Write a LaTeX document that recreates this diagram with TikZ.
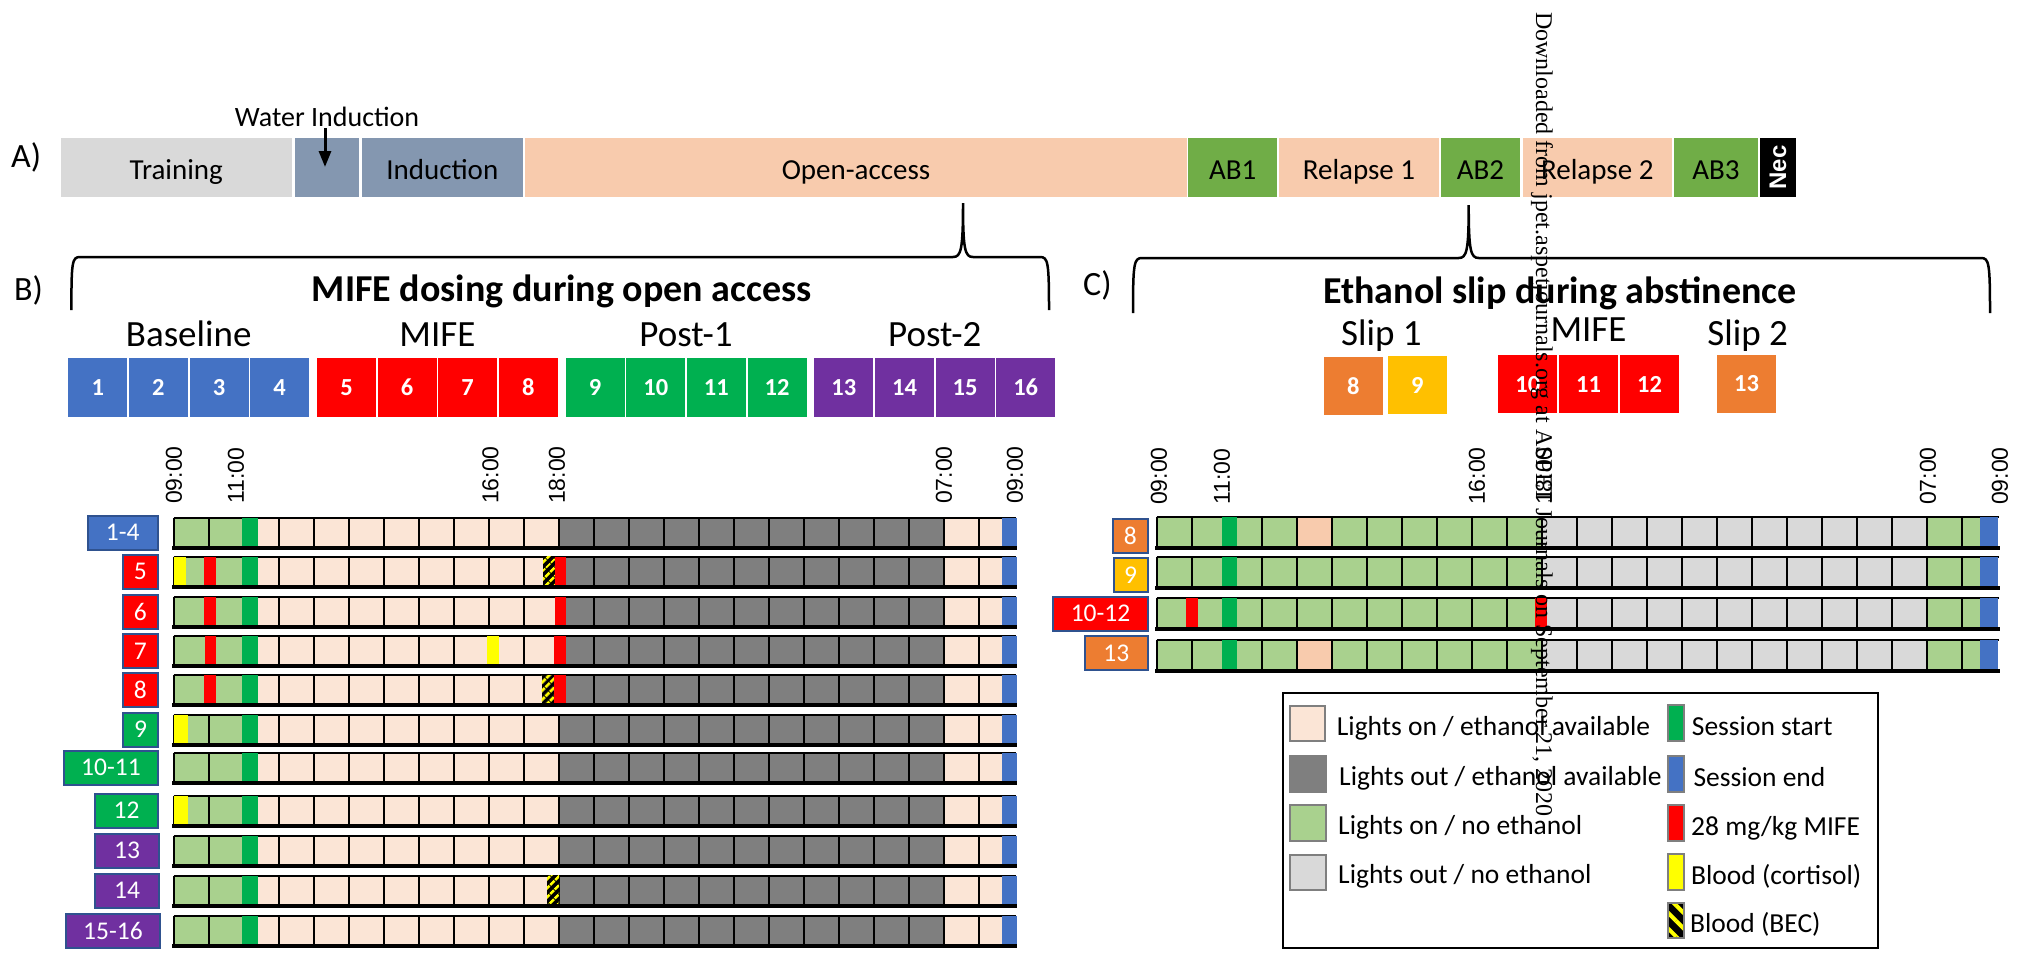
\documentclass[tikz,border=0pt]{standalone}
\usepackage{fontspec}
\setmainfont{Carlito}
\newfontfamily\arialf{Liberation Sans}
\newfontfamily\timesf{Liberation Serif}
\usetikzlibrary{arrows.meta,patterns.meta}
\definecolor{lgreen}{HTML}{A9D18E}
\definecolor{sgreen}{HTML}{00B050}
\definecolor{peachl}{HTML}{FBE5D6}
\definecolor{peach}{HTML}{F8CBAD}
\definecolor{dgray}{HTML}{7F7F7F}
\definecolor{lgray}{HTML}{D9D9D9}
\definecolor{sblue}{HTML}{4472C4}
\definecolor{sred}{HTML}{FF0000}
\definecolor{syellow}{HTML}{FFFF00}
\definecolor{spurple}{HTML}{7030A0}
\definecolor{sorange}{HTML}{ED7D31}
\definecolor{sgold}{HTML}{FFC000}
\definecolor{slate}{HTML}{8497B0}
\definecolor{abgreen}{HTML}{70AD47}
\definecolor{lblborder}{HTML}{2F528F}
\newcommand\fs[1]{\fontsize{#1}{#1}\selectfont}
% grid helpers: x0, top, height
\newcommand\vlines[3]{%
  \foreach \k in {0,...,24} \draw[cellline] ({#1+35*\k},#2) -- ({#1+35*\k},{#2+#3});
  \draw[cellline] (#1,#2) -- ({#1+842},#2);}
\newcommand\baseln[3]{\draw[line width=4pt] ({#1-1.5},{#2+#3}) -- ({#1+843.5},{#2+#3});}
\newcommand\mk[4]{\fill[#1] (#2,#4) rectangle (#3,{#4+30});}
\newcommand\mkC[4]{\fill[#1] (#2,#4) rectangle (#3,{#4+31});}
\newcommand\hatch[3]{\fill[black] (#1,#3) rectangle (#2,{#3+30});
  \fill[pattern={Lines[angle=45,distance=6.5pt,line width=3pt]},pattern color=syellow] (#1,#3) rectangle (#2,{#3+30});}
\newcommand\gridB[1]{%
  \fill[lgreen] (173.6,#1) rectangle (243.6,{#1+30});
  \fill[peachl] (243.6,#1) rectangle (558.6,{#1+30});
  \fill[dgray] (558.6,#1) rectangle (943.6,{#1+30});
  \fill[peachl] (943.6,#1) rectangle (1013.6,{#1+30});
  \vlines{173.6}{#1}{30}
  \fill[sgreen] (242,#1) rectangle (258,{#1+30});
  \fill[sblue] (1002,#1) rectangle (1017,{#1+30});}
\newcommand\gridC[2]{% top, peach?
  \fill[lgreen] (1156.7,#1) rectangle (1541.7,{#1+31});
  \fill[lgray] (1541.7,#1) rectangle (1926.7,{#1+31});
  \fill[lgreen] (1926.7,#1) rectangle (1996.7,{#1+31});
  \ifnum#2=1 \fill[peach] (1296.7,#1) rectangle (1331.7,{#1+31});\fi
  \vlines{1156.7}{#1}{31}
  \fill[sgreen] (1221.5,#1) rectangle (1236.5,{#1+31});
  \fill[sblue] (1980,#1) rectangle (1998,{#1+31});}
\begin{document}
\begin{tikzpicture}[x=1pt,y=-1pt,
  cellline/.style={line width=2pt,black},
  bar/.style={inner sep=0pt,minimum height=58.4pt},
  bartxt/.style={anchor=base,inner sep=0pt,font=\fs{29}},
  blk/.style={inner sep=0pt,minimum width=59pt,minimum height=58.4pt,text=white,font=\bfseries\fs{24.5}},
  grp/.style={anchor=base,inner sep=0pt,font=\fs{37}},
  ttl/.style={anchor=base,inner sep=0pt,font=\bfseries\fs{38}},
  panel/.style={anchor=base west,inner sep=0pt,font=\fs{34}},
  tlab/.style={rotate=90,anchor=west,inner sep=0pt,font=\arialf\fs{23}},
  lblbox/.style={draw=lblborder,line width=2pt,text=white,minimum height=34pt,inner sep=0pt,anchor=east,font=\fs{25.5}},
  sw/.style={draw=dgray,line width=2.5pt},
  legt/.style={anchor=base west,inner sep=0pt,font=\fs{27.5}},
  brace/.style={line width=2.5pt,black}]
\useasboundingbox (0,0) rectangle (2018,956);

% ---------- A) timeline bar ----------
\node[panel] (pA) at (11,167) {A)};
\node[bar,fill=lgray,minimum width=231.4pt] (sTr) at (176.3,167.5) {};
\node[bar,fill=slate,minimum width=64.4pt] (sWi) at (326.8,167.5) {};
\node[bar,fill=slate,minimum width=161.4pt] (sIn) at (442.3,167.5) {};
\node[bar,fill=peach,minimum width=662pt] (sOa) at (856,167.5) {};
\node[bar,fill=abgreen,minimum width=88.7pt] (sAb1) at (1232.7,167.5) {};
\node[bar,fill=peach,minimum width=160pt] (sRe1) at (1359,167.5) {};
\node[bar,fill=abgreen,minimum width=79pt] (sAb2) at (1480.5,167.5) {};
\node[bar,fill=peach,minimum width=149.4pt] (sRe2) at (1597.3,167.5) {};
\node[bar,fill=abgreen,minimum width=84pt] (sAb3) at (1716,167.5) {};
\node[bar,fill=black,minimum width=36pt] (sNec) at (1778,167.5) {};
\node[bartxt] (tTr) at (176.3,179.3) {Training};
\node[bartxt] (tIn) at (442.3,179.3) {Induction};
\node[bartxt] (tOa) at (856,179.3) {Open-access};
\node[bartxt] (tAb1) at (1232.7,179.3) {AB1};
\node[bartxt] (tRe1) at (1359,179.3) {Relapse 1};
\node[bartxt] (tAb2) at (1480.5,179.3) {AB2};
\node[bartxt] (tRe2) at (1597.3,179.3) {Relapse 2};
\node[bartxt] (tAb3) at (1716,179.3) {AB3};
\node[rotate=90,inner sep=0pt,text=white,font=\arialf\bfseries\fs{24}] (tNec) at (1778,167.5) {Nec};
\node[anchor=base west,inner sep=0pt,font=\fs{28}] (tWi) at (234.7,126.7) {Water Induction};
\coordinate (wa1) at (325,128);
\coordinate (wa2) at (325,167);
\draw[line width=3pt,-{Triangle[length=16pt,width=12pt]}] (wa1) -- (wa2);

% ---------- braces ----------
\draw[brace] (71.4,310) .. controls (71.4,262) and (72,257) .. (80,257) -- (953,257)
  .. controls (961,257) and (963,250) .. (963,203)
  .. controls (963,250) and (965,257) .. (973,257) -- (1040,257)
  .. controls (1048,257) and (1049,262) .. (1049,310);
\draw[brace] (1133,313) .. controls (1133,263) and (1134,258) .. (1142,258) -- (1458.7,258)
  .. controls (1466.7,258) and (1468.7,251) .. (1468.7,205)
  .. controls (1468.7,251) and (1470.7,258) .. (1478.7,258) -- (1981,258)
  .. controls (1989,258) and (1990,263) .. (1990,313);

% ---------- B) header ----------
\node[panel] (pB) at (14,300) {B)};
\node[ttl] (ttlB) at (561.8,301.7) {MIFE dosing during open access};
\node[grp] (gB0) at (188.7,346.7) {Baseline};
\node[grp] (gB1) at (437.4,346.7) {MIFE};
\node[grp] (gB2) at (686.1,346.7) {Post-1};
\node[grp] (gB3) at (934.8,346.7) {Post-2};
\foreach \g/\c in {0/sblue,1/sred,2/sgreen,3/spurple}{
  \foreach \k in {0,...,3}{
    \pgfmathtruncatemacro\n{4*\g+\k+1}
    \node[blk,fill=\c] (b\n) at ({97.8+248.7*\g+60.6*\k},387.5) {\n};
  }
}

% ---------- C) header ----------
\node[panel] (pC) at (1083,295) {C)};
\node[ttl] (ttlC) at (1560,303) {Ethanol slip during abstinence};
\node[grp] (gC0) at (1381.4,345) {Slip 1};
\node[grp] (gC1) at (1588.5,341.7) {MIFE};
\node[grp] (gC2) at (1747.6,345) {Slip 2};
\node[blk,fill=sorange] (c8) at (1353.2,386.2) {8};
\node[blk,fill=sgold] (c9) at (1417.2,385) {9};
\node[blk,fill=sred] (c10) at (1527.8,384.2) {10};
\node[blk,fill=sred] (c11) at (1588.5,384.2) {11};
\node[blk,fill=sred] (c12) at (1649.5,384.2) {12};
\node[blk,fill=sorange] (c13) at (1746.5,384) {13};

% ---------- time labels ----------
\node[tlab] (tB09) at (174,504) {09:00};
\node[tlab] (tB11) at (236,504) {11:00};
\node[tlab] (tB16) at (490.5,504) {16:00};
\node[tlab] (tB18) at (557,504) {18:00};
\node[tlab] (tB07) at (944,504) {07:00};
\node[tlab] (tB09b) at (1015,504) {09:00};
\node[tlab] (tC09) at (1159,505) {09:00};
\node[tlab] (tC11) at (1222,505) {11:00};
\node[tlab] (tC16) at (1477,505) {16:00};
\node[tlab] (tC18) at (1544,505) {18:00};
\node[tlab] (tC07) at (1928,505) {07:00};
\node[tlab] (tC09b) at (2000,505) {09:00};

% ---------- B rows ----------
\gridB{517.7} \baseln{173.6}{517.7}{30}
\gridB{556.7} \mk{syellow}{173.6}{186}{556.7} \mk{sred}{204}{216}{556.7}
 \hatch{543}{555}{556.7} \mk{sred}{555}{566}{556.7} \baseln{173.6}{556.7}{30}
\gridB{596.7} \mk{sred}{204}{216}{596.7} \mk{sred}{555}{566}{596.7} \baseln{173.6}{596.7}{30}
\gridB{636} \mk{sred}{204.6}{216.4}{636} \mk{syellow}{487}{498.6}{636} \mk{sred}{554}{566}{636} \baseln{173.6}{636}{30}
\gridB{675} \mk{sred}{204}{216}{675} \hatch{541.5}{554}{675} \mk{sred}{554}{566}{675} \baseln{173.6}{675}{30}
\gridB{715} \mk{syellow}{173.6}{188}{715} \baseln{173.6}{715}{30}
\gridB{753.3} \baseln{173.6}{753.3}{30}
\gridB{795.7} \mk{syellow}{173.6}{188}{795.7} \baseln{173.6}{795.7}{30}
\gridB{835.7} \baseln{173.6}{835.7}{30}
\gridB{875.7} \hatch{547}{559}{875.7} \baseln{173.6}{875.7}{30}
\gridB{916} \baseln{173.6}{916}{30}

\node[lblbox,fill=sblue,minimum width=69.5pt] (rB1) at (158.5,532.7) {1-4};
\node[lblbox,fill=sred,minimum width=34.5pt] (rB2) at (158.5,571.7) {5};
\node[lblbox,fill=sred,minimum width=34.5pt] (rB3) at (158.5,611.7) {6};
\node[lblbox,fill=sred,minimum width=34.5pt] (rB4) at (158.5,651) {7};
\node[lblbox,fill=sred,minimum width=34.5pt] (rB5) at (158.5,690) {8};
\node[lblbox,fill=sgreen,minimum width=35pt] (rB6) at (159,729.5) {9};
\node[lblbox,fill=sgreen,minimum width=94pt] (rB7) at (159,767.5) {10-11};
\node[lblbox,fill=sgreen,minimum width=63pt] (rB8) at (159,810.5) {12};
\node[lblbox,fill=spurple,minimum width=64pt] (rB9) at (160,850.5) {13};
\node[lblbox,fill=spurple,minimum width=64pt] (rB10) at (160,890.5) {14};
\node[lblbox,fill=spurple,minimum width=94pt] (rB11) at (161,931) {15-16};

% ---------- C rows ----------
\gridC{517}{1} \baseln{1156.7}{517}{31}
\gridC{557}{0} \baseln{1156.7}{557}{31}
\gridC{598}{0} \mkC{sred}{1186}{1198}{598} \mkC{sred}{1535}{1547}{598} \baseln{1156.7}{598}{31}
\gridC{640}{1} \baseln{1156.7}{640}{31}

\node[lblbox,fill=sorange,minimum width=34.3pt] (rC1) at (1148.5,535.9) {8};
\node[lblbox,fill=sgold,minimum width=34pt] (rC2) at (1148.5,575.2) {9};
\node[lblbox,fill=sred,minimum width=94.4pt] (rC3) at (1148.7,613.7) {10-12};
\node[lblbox,fill=sorange,minimum width=62.7pt] (rC4) at (1148.7,653.4) {13};

% ---------- legend ----------
\draw[line width=2.5pt] (1283,693) rectangle (1878,948);
\draw[sw,fill=peachl] (1290,706) rectangle (1325,741);
\draw[sw,fill=dgray] (1290,756) rectangle (1326,792);
\draw[sw,fill=lgreen] (1290,805) rectangle (1326,841);
\draw[sw,fill=lgray] (1290,855) rectangle (1326,890);
\node[legt] (l1) at (1336.7,735) {Lights on / ethanol available};
\node[legt] (l2) at (1339,785) {Lights out / ethanol available};
\node[legt] (l3) at (1338,834) {Lights on / no ethanol};
\node[legt] (l4) at (1338,883.3) {Lights out / no ethanol};
\draw[sw,fill=sgreen] (1668,705) rectangle (1684,741);
\draw[sw,fill=sblue] (1668,756) rectangle (1684,792);
\draw[sw,fill=sred] (1668,805) rectangle (1684,841);
\draw[sw,fill=syellow] (1668,854) rectangle (1684,890);
\fill[black] (1668,903) rectangle (1684,938);
\fill[pattern={Lines[angle=-45,distance=11pt,line width=4pt]},pattern color=syellow] (1668,903) rectangle (1684,938);
\draw[sw] (1668,903) rectangle (1684,938);
\node[legt] (r1) at (1691.7,735) {Session start};
\node[legt] (r2) at (1693.3,786.7) {Session end};
\node[legt] (r3) at (1691,835) {28 mg/kg MIFE};
\node[legt] (r4) at (1691,884) {Blood (cortisol)};
\node[legt] (r5) at (1690,932) {Blood (BEC)};

% ---------- watermark ----------
\node[rotate=-90,anchor=west,inner sep=0pt,font=\timesf\fs{24}] (wm) at (1542,12)
  {Downloaded from jpet.aspetjournals.org at ASPET Journals on September 21, 2020};
\end{tikzpicture}
\end{document}
